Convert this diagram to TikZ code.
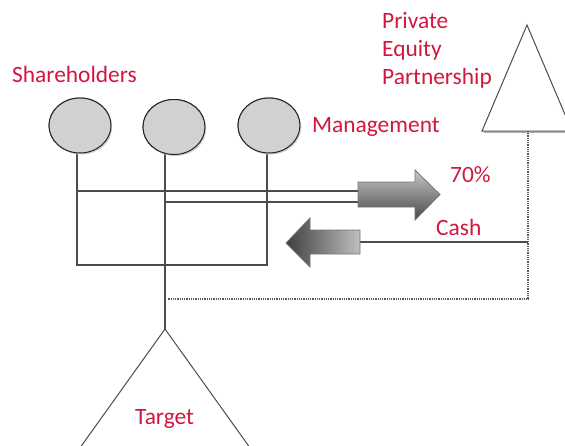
\documentclass[tikz,border=0pt]{standalone}
\usepackage{fontspec}
\setmainfont{Carlito}
\usetikzlibrary{shapes.geometric}
\definecolor{labelred}{RGB}{210,22,62}
\begin{document}
\begin{tikzpicture}[x=1pt,y=-1pt,
  lbl/.style={text=labelred,font=\fontsize{23.4}{28}\selectfont,inner sep=0pt,anchor=base west},
  holder/.style={ellipse,draw=black!85,line width=1pt,fill=black!18,
    minimum width=62pt,minimum height=55pt,inner sep=0pt},
  wire/.style={draw=black!70,line width=1.2pt},
  dots/.style={draw=black!65,line width=1.1pt,dash pattern=on 1pt off 0.8pt},
  outline/.style={draw=black!70,line width=1pt},
  bigarrow/.style={draw=black!55,line width=0.8pt}]
\useasboundingbox (0,0) rectangle (565,445);

% anchor points of the structure
\coordinate (tgt) at (165,329);
\coordinate (pe) at (527,25);
\coordinate (rin) at (358,194.5);
\coordinate (lout) at (360,242);
\coordinate (pebase) at (528,131);

% owners
\node[holder] (s1) at (80,125.5) {};
\node[holder] (s2) at (174,127) {};
\node[holder] (m) at (269,125.5) {};

% ownership wiring
\draw[wire] ([xshift=-3pt]s1.center) -- ([xshift=-3pt]s1.center |- 0,265) -- ([xshift=-2pt]m.center |- 0,265) -- ([xshift=-2pt]m.center);
\draw[wire] ([xshift=-9pt]s2.center) -- ([xshift=-9pt]s2.center |- tgt);
\draw[wire] ([xshift=-3pt]s1.center |- 0,191) -- (rin |- 0,191);
\draw[wire] ([xshift=-9pt]s2.center |- 0,202) -- (rin |- 0,202);
\draw[wire] (lout) -- (lout -| pebase);

% redraw the owners on top of the wiring, with a faint shadow
\foreach \n in {s1,s2,m}{
  \fill[black!20] ([shift={(1.2pt,-1.5pt)}]\n.center) ellipse (31pt and 27.5pt);
  \node[holder] at (\n) {};
}

% 70% arrow to the partnership
\path[bigarrow,top color=black!22,bottom color=black!72]
  (358,182) -- (415,182) -- (415,170) -- (440,194.5) -- (415,220) -- (415,207) -- (358,207) -- cycle;
% cash arrow back to the owners
\path[bigarrow,left color=black!75,right color=black!25]
  (360,230) -- (310,230) -- (310,218) -- (286,243) -- (310,267) -- (310,254) -- (360,254) -- cycle;

% private equity partnership
\draw[black!30,line width=1.6pt] (484,132.6) -- (570,132.6);
\draw[outline,fill=white] (pe) -- (482,131) -- (572,131) -- cycle;
\draw[dots] (pebase) -- (pebase |- 0,299) -- (168,299);

% target company
\draw[outline] (77,452) -- (tgt) -- (253,452);

% labels
\node[lbl] (lsh) at (12,82) {Shareholders};
\node[lbl] (lmg) at (312,132) {Management};
\node[lbl] (lpe1) at (382,28) {Private};
\node[lbl] (lpe2) at (382,56) {Equity};
\node[lbl] (lpe3) at (382,84) {Partnership};
\node[lbl] (l70) at (450,182) {70\%};
\node[lbl] (lcash) at (436,235) {Cash};
\node[lbl] (ltgt) at (135,424) {Target};
\end{tikzpicture}
\end{document}
